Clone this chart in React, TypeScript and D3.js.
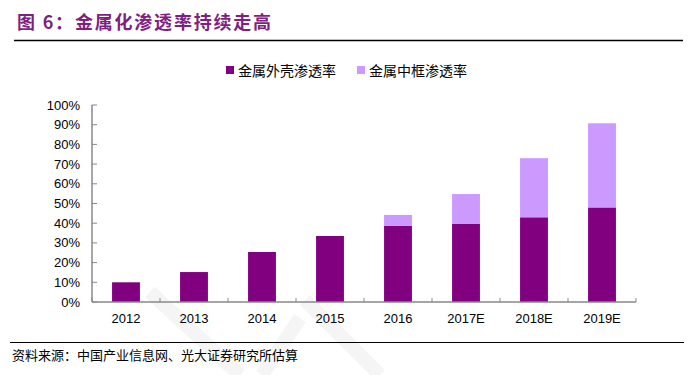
import React from "react";
import * as d3 from "d3";

const categories = ["2012", "2013", "2014", "2015", "2016", "2017E", "2018E", "2019E"];
const shellRate = [10, 15.2, 25.4, 33.5, 38.6, 39.6, 43, 48];
const frameRate = [0, 0, 0, 0, 5.6, 15.2, 30, 42.7];
const yTicks = [0, 10, 20, 30, 40, 50, 60, 70, 80, 90, 100];
const seriesNames = ["金属外壳渗透率", "金属中框渗透率"];
const seriesColors = ["#800080", "#CC99FF"];

const W = 697, H = 375;
const left = 92, right = 636, top = 105, bottom = 302;

export default function App() {
  const x = d3.scaleBand<string>().domain(categories).range([left, right]).paddingInner(0.59).paddingOuter(0.295);
  const y = d3.scaleLinear().domain([0, 100]).range([bottom, top]);
  const step = (right - left) / categories.length;
  const axisColor = "#888888";
  const font = "'Liberation Sans', Arial, sans-serif";
  const cjk = "'Noto Sans CJK SC', sans-serif";
  return (
    <svg width={W} height={H} style={{ position: "absolute", left: 0, top: 0, background: "#fff" }}>
      <rect x={0} y={0} width={W} height={H} fill="#fff" />
      {/* watermark */}
      <g stroke="#f5f5f5" strokeWidth={14} fill="none" strokeLinecap="butt">
        <line x1={150} y1={292} x2={240} y2={375} />
        <line x1={300} y1={318} x2={262} y2={375} />
        <line x1={305} y1={300} x2={380} y2={375} />
      </g>
      {/* title */}
      <text x={17} y={29} fontFamily={cjk} fontSize={18} fontWeight={700} letterSpacing={1.8} fill="#7f1f7f">图 6：金属化渗透率持续走高</text>
      <line x1={14} x2={683} y1={40.5} y2={40.5} stroke="#000" strokeWidth={1.5} />
      {/* legend */}
      {seriesNames.map((n, i) => {
        const lx = i === 0 ? 226 : 357;
        return (
          <g key={n}>
            <rect x={lx} y={66} width={8} height={8} fill={seriesColors[i]} />
            <text x={lx + 12} y={75.5} fontFamily={cjk} fontSize={14} fill="#000">{n}</text>
          </g>
        );
      })}
      {/* bars */}
      {categories.map((c, i) => (
        <g key={c}>
          <rect x={x(c)} y={y(shellRate[i])} width={x.bandwidth()} height={bottom - y(shellRate[i])} fill={seriesColors[0]} />
          {frameRate[i] > 0 && (
            <rect x={x(c)} y={y(shellRate[i] + frameRate[i])} width={x.bandwidth()} height={y(shellRate[i]) - y(shellRate[i] + frameRate[i])} fill={seriesColors[1]} />
          )}
        </g>
      ))}
      {/* y axis */}
      <line x1={left} x2={left} y1={top} y2={bottom} stroke={axisColor} strokeWidth={1.5} />
      {yTicks.map((t) => (
        <g key={t}>
          <line x1={left} x2={left + 5} y1={y(t)} y2={y(t)} stroke={axisColor} strokeWidth={1} />
          <text x={80} y={y(t) + 4.5} textAnchor="end" fontFamily={font} fontSize={13} fill="#000">{t}%</text>
        </g>
      ))}
      {/* x axis */}
      <line x1={left} x2={right} y1={bottom} y2={bottom} stroke={axisColor} strokeWidth={1.5} />
      {d3.range(categories.length + 1).map((i) => (
        <line key={i} x1={left + i * step} x2={left + i * step} y1={bottom} y2={bottom - 4} stroke={axisColor} strokeWidth={1} />
      ))}
      {categories.map((c) => (
        <text key={c} x={(x(c) as number) + x.bandwidth() / 2} y={323} textAnchor="middle" fontFamily={font} fontSize={13} fill="#000">{c}</text>
      ))}
      {/* footer */}
      <line x1={10} x2={684} y1={342.5} y2={342.5} stroke="#000" strokeWidth={1.2} />
      <text x={12} y={360} fontFamily={cjk} fontSize={13} fill="#000">资料来源：中国产业信息网、光大证券研究所估算</text>
    </svg>
  );
}
